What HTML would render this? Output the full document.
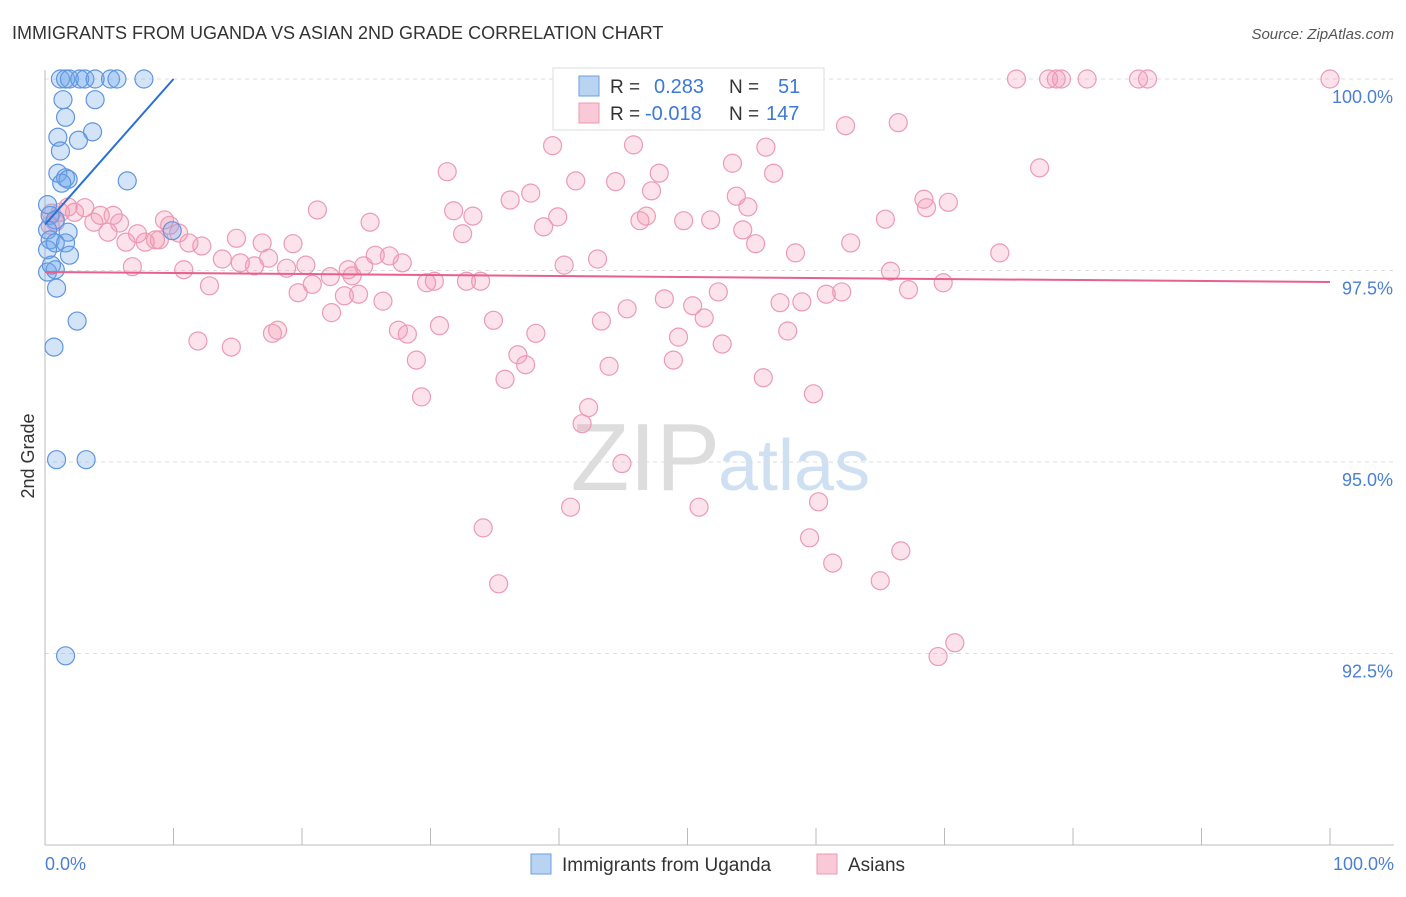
<!DOCTYPE html>
<html><head><meta charset="utf-8"><style>
body{margin:0;background:#fff;font-family:"Liberation Sans",sans-serif}
svg text{font-family:"Liberation Sans",sans-serif}
</style></head><body>
<svg id="chart" width="1406" height="892" xmlns="http://www.w3.org/2000/svg">
<text x="12" y="39" font-size="18" fill="#333">IMMIGRANTS FROM UGANDA VS ASIAN 2ND GRADE CORRELATION CHART</text>
<text x="1394" y="39" font-size="15" fill="#555" font-style="italic" text-anchor="end">Source: ZipAtlas.com</text>
<text x="720" y="490" font-size="96" fill="#ddd" text-anchor="end" font-family="Liberation Serif">ZIP</text>
<text x="718" y="490" font-size="72" fill="#cfe0f3">atlas</text>
<g id="grid"></g>
<g id="axes"></g>
<g id="pts"></g>
<g id="lines"></g>
<text transform="translate(34,456) rotate(-90)" font-size="18" fill="#333" text-anchor="middle">2nd Grade</text>
<text x="45" y="870" font-size="18" fill="#4a7fd6">0.0%</text>
<text x="1394" y="870" font-size="18" fill="#4a7fd6" text-anchor="end">100.0%</text>
<g>
<rect x="553" y="68" width="271" height="62" fill="#fff" stroke="#ddd"/>
<rect x="579" y="76" width="20" height="20" fill="#b9d3f3" stroke="#6d9fe0"/>
<rect x="579" y="103" width="20" height="20" fill="#f9c9d8" stroke="#ec9ab5"/>
<text x="610" y="93" font-size="19" fill="#333">R =</text>
<text x="654" y="93" font-size="20" fill="#3b78d8">0.283</text>
<text x="729" y="93" font-size="19" fill="#333">N =</text>
<text x="778" y="93" font-size="20" fill="#3b78d8">51</text>
<text x="610" y="120" font-size="19" fill="#333">R =</text>
<text x="645" y="120" font-size="20" fill="#3b78d8">-0.018</text>
<text x="729" y="120" font-size="19" fill="#333">N =</text>
<text x="766" y="120" font-size="20" fill="#3b78d8">147</text>
</g>
<g>
<rect x="531" y="854" width="20" height="20" fill="#b9d3f3" stroke="#6d9fe0"/>
<text x="562" y="871" font-size="19" fill="#333">Immigrants from Uganda</text>
<rect x="817" y="854" width="20" height="20" fill="#f9c9d8" stroke="#ec9ab5"/>
<text x="848" y="871" font-size="19" fill="#333">Asians</text>
</g>
</svg>
<script>
const yTicks=[100,97.5,95,92.5];
const yTickLabels=["100.0%","97.5%","95.0%","92.5%"];
const xTicks=[0,10,20,30,40,50,60,70,80,90,100];
const blueX=[1.2,1.6,1.9,2.7,3.1,3.9,5.1,5.6,7.7,1.4,3.9,1.6,3.7,1.0,2.6,1.2,1.0,1.6,1.8,1.3,6.4,9.9,0.4,0.8,0.2,1.8,0.4,0.8,1.6,0.2,1.9,0.2,0.8,0.9,2.5,0.7,0.9,3.2,1.6,0.2,0.5];
const blueY=[100,100,100,100,100,100,100,100,100,99.73,99.73,99.5,99.31,99.24,99.2,99.06,98.77,98.71,98.69,98.64,98.67,98.02,98.22,98.16,98.03,98.0,97.9,97.86,97.86,97.77,97.7,97.48,97.51,97.27,96.84,96.5,95.03,95.03,92.47,98.36,97.57];
const pinkX=[75.6,78.1,79.1,81.1,85.1,85.8,100,78.7,62.3,66.4,39.5,45.8,56.1,53.5,31.3,47.8,56.7,77.4,41.3,44.4,37.8,36.2,47.2,53.8,68.4,70.3,68.6,54.7,21.2,31.8,33.3,39.9,25.3,38.8,46.3,46.8,49.7,51.8,65.4,54.3,32.5,14.9,16.9,19.3,12.2,11.2,62.7,55.3,25.7,26.8,27.8,58.4,43.0,40.4,74.3,13.8,15.2,16.3,17.4,18.8,20.3,23.6,24.8,22.2,20.8,23.9,30.3,29.7,32.8,33.9,65.8,69.9,67.2,10.8,12.8,6.8,19.7,23.3,24.4,26.3,48.2,50.4,52.4,57.2,58.9,60.8,62.0,45.3,51.3,43.3,22.3,30.7,34.9,38.2,27.5,28.2,18.1,17.7,57.8,49.3,11.9,14.5,52.7,36.8,37.4,28.9,43.9,48.9,35.8,55.9,29.3,59.8,42.3,41.8,44.9,40.9,50.9,60.2,34.1,59.5,66.6,61.3,35.3,65.0,70.8,69.5,0.5,1.2,1.8,2.3,3.1,3.8,4.3,5.3,5.8,4.9,6.3,7.2,7.8,8.6,8.9,9.3,9.7,10.4,0.8,0.4];
const pinkY=[100,100,100,100,100,100,100,100,99.39,99.43,99.13,99.14,99.11,98.90,98.79,98.77,98.77,98.84,98.67,98.66,98.51,98.42,98.54,98.47,98.43,98.39,98.32,98.33,98.29,98.28,98.21,98.2,98.13,98.07,98.15,98.21,98.15,98.16,98.17,98.03,97.98,97.92,97.86,97.85,97.82,97.86,97.86,97.85,97.7,97.69,97.6,97.73,97.65,97.57,97.73,97.65,97.6,97.56,97.66,97.53,97.57,97.51,97.56,97.42,97.32,97.43,97.36,97.34,97.36,97.36,97.49,97.34,97.25,97.51,97.3,97.55,97.21,97.17,97.19,97.1,97.13,97.04,97.22,97.08,97.09,97.19,97.22,97.0,96.88,96.84,96.95,96.78,96.85,96.68,96.72,96.67,96.72,96.68,96.71,96.63,96.58,96.5,96.54,96.4,96.27,96.33,96.25,96.33,96.08,96.1,95.85,95.89,95.71,95.5,94.98,94.41,94.41,94.48,94.14,94.01,93.84,93.68,93.41,93.45,92.64,92.46,98.25,98.26,98.33,98.26,98.32,98.13,98.22,98.22,98.12,98.0,97.87,97.98,97.87,97.9,97.9,98.16,98.09,97.99,98.13,98.09];
const blueTrend=[98.1,0.19];
const pinkTrend=[97.48,-0.0013];
const NS="http://www.w3.org/2000/svg";
const sx=v=>45+v*12.85, sy=v=>79+(100-v)*76.6;
function mk(t,a,p){const e=document.createElementNS(NS,t);for(const k in a)e.setAttribute(k,a[k]);p.appendChild(e);return e;}
const grid=document.getElementById('grid'),axes=document.getElementById('axes');
yTicks.forEach((v,i)=>{
 const l=mk('line',{x1:45,x2:1394,y1:sy(v),y2:sy(v),stroke:'#ddd','stroke-dasharray':'4,4'},grid);
 
 
 const t=mk('text',{x:1393,y:sy(v)+24,'font-size':18,fill:'#4a7fd6','text-anchor':'end'},axes);
 t.textContent=yTickLabels[i];
 
 
});
const ax=mk('line',{x1:45,x2:45,y1:70,y2:845,stroke:'#bbb'},axes);


const bx=mk('line',{x1:45,x2:1394,y1:845,y2:845,stroke:'#bbb'},axes);


xTicks.forEach(v=>{
 const t=mk('line',{x1:sx(v),x2:sx(v),y1:828,y2:845,stroke:'#bbb'},axes);
 
 
});
const pts=document.getElementById('pts');
pinkX.forEach((x,i)=>{
 const c=mk('circle',{cx:sx(x),cy:sy(pinkY[i]),r:9,fill:'rgba(244,150,180,0.28)',stroke:'#ec9ab5','stroke-width':1.2},pts);
 
 
});
blueX.forEach((x,i)=>{
 const c=mk('circle',{cx:sx(x),cy:sy(blueY[i]),r:9,fill:'rgba(110,165,235,0.3)',stroke:'#5f95e0','stroke-width':1.2},pts);
 
 
});
const lines=document.getElementById('lines');
const bEnd=Math.min(100,(100-blueTrend[0])/blueTrend[1]);
const bl=mk('line',{x1:sx(0),y1:sy(blueTrend[0]),x2:sx(bEnd),y2:sy(blueTrend[0]+blueTrend[1]*bEnd),stroke:'#2a6fd6','stroke-width':2},lines);


const pl=mk('line',{x1:sx(0),y1:sy(pinkTrend[0]),x2:sx(100),y2:sy(pinkTrend[0]+pinkTrend[1]*100),stroke:'#e8608e','stroke-width':2},lines);


</script>
</body></html>
